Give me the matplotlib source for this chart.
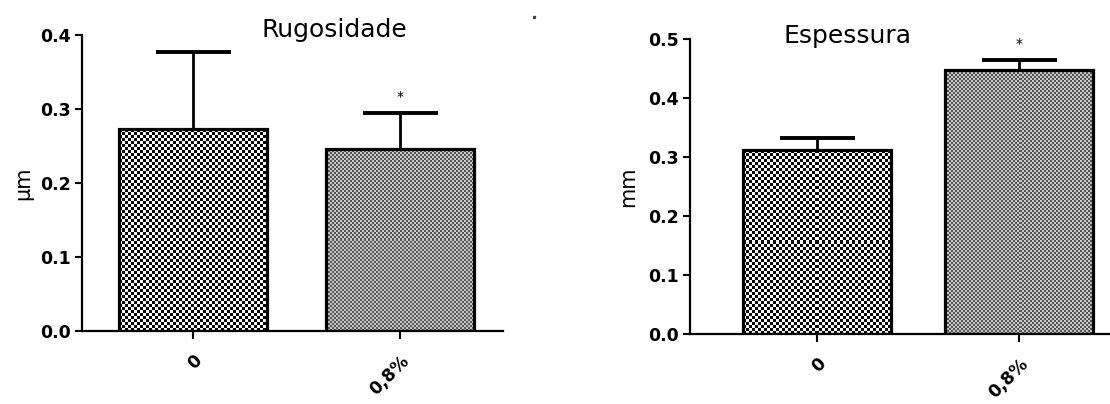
import numpy as np
import matplotlib
matplotlib.use("Agg")
import matplotlib.pyplot as plt
from matplotlib.lines import Line2D

# ---- data ----
categories = ["0", "0,8%"]
rug_means = [0.273, 0.246]
rug_err = [0.104, 0.048]
esp_means = [0.312, 0.447]
esp_err = [0.021, 0.017]
rug_sig = ["", "*"]
esp_sig = ["", "*"]
rug_ticks = [0.0, 0.1, 0.2, 0.3, 0.4]
esp_ticks = [0.0, 0.1, 0.2, 0.3, 0.4, 0.5]

plt.rcParams['font.family'] = ['DejaVu Sans']

W, H = 1110, 404
fig = plt.figure(figsize=(W / 100, H / 100), dpi=100)


def px_axes(left, right, bottom, top):
    return fig.add_axes([left / W, 1 - bottom / H, (right - left) / W, (bottom - top) / H])


ax1 = px_axes(82, 503, 331, 35)
ax2 = px_axes(690, 1110, 334, 39)

patterns = [
    dict(cell=3, lo=0.0, hi=1.0),     # coarse black/white checkerboard
    dict(cell=2, lo=0.33, hi=0.78),   # fine gray checkerboard
]


def draw(ax, means, errs, sig, ticks, xlim, width):
    x = np.arange(len(categories))
    ax.set_xlim(*xlim)
    ax.set_ylim(ticks[0], ticks[-1])
    bars = ax.bar(x, means, width=width, facecolor='none', edgecolor='black',
                  linewidth=2.3, zorder=3)
    eb = ax.errorbar(x, means, yerr=[np.zeros(len(errs)), errs], fmt='none',
                     ecolor='black', elinewidth=2.0, capsize=27, capthick=2.8,
                     zorder=2, clip_on=False)
    caplines = eb[1]
    if len(caplines) == 2:
        caplines[0].set_visible(False)
    fig.canvas.draw()
    # texture fill inside each bar
    for b, pat in zip(bars, patterns):
        bb = b.get_window_extent()
        nx = max(int(round(bb.width)), 1)
        ny = max(int(round(bb.height)), 1)
        ii, jj = np.mgrid[0:ny, 0:nx]
        arr = np.where(((ii // pat['cell']) + (jj // pat['cell'])) % 2 == 0,
                       pat['lo'], pat['hi'])
        im = ax.imshow(arr, extent=(b.get_x(), b.get_x() + b.get_width(), 0, b.get_height()),
                       aspect='auto', interpolation='nearest', cmap='gray',
                       vmin=0, vmax=1, zorder=1, origin='lower')
        im.set_clip_path(b)
    ax.set_xlim(*xlim)
    ax.set_ylim(ticks[0], ticks[-1])
    for xi, m, e, s in zip(x, means, errs, sig):
        if s:
            ax.annotate(s, (xi, m + e), xytext=(0, 12), textcoords='offset points',
                        ha='center', va='center', fontsize=10, annotation_clip=False)
    for sp in ['top', 'right']:
        ax.spines[sp].set_visible(False)
    for sp in ['left', 'bottom']:
        ax.spines[sp].set_linewidth(1.6)
    ax.set_yticks(ticks)
    ax.set_yticklabels([f"{t:.1f}" for t in ticks], fontsize=12.5, fontweight='bold')
    ax.set_xticks(x)
    ax.set_xticklabels(categories, fontsize=12.5, fontweight='bold', rotation=45,
                       ha='right', va='top', rotation_mode='anchor')
    ax.tick_params(axis='y', length=5, width=1.5, pad=3)
    ax.tick_params(axis='x', length=6, width=1.5, pad=9)
    ax.patch.set_visible(False)


draw(ax1, rug_means, rug_err, rug_sig, rug_ticks, (-0.536, 1.498), 0.715)
draw(ax2, esp_means, esp_err, esp_sig, esp_ticks, (-0.629, 1.450), 0.733)

fig.text(334 / W, 1 - 37 / H, "Rugosidade", ha='center', va='baseline', fontsize=18)
fig.text(848 / W, 1 - 43 / H, "Espessura", ha='center', va='baseline', fontsize=18)
fig.text(23 / W, 1 - 183 / H, "µm", ha='center', va='center', rotation=90, fontsize=15)
fig.text(628 / W, 1 - 187 / H, "mm", ha='center', va='center', rotation=90, fontsize=15)

# small stray dot in the original image
fig.add_artist(Line2D([534 / W], [1 - 17 / H], marker='s', ms=2, color='#444444',
                      transform=fig.transFigure))

fig.savefig("out.png", dpi=100)
